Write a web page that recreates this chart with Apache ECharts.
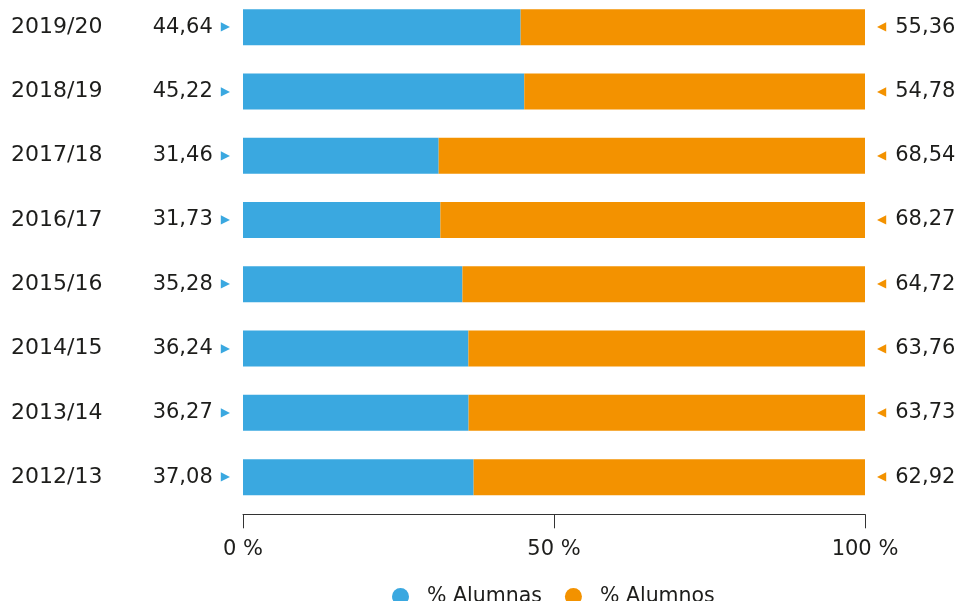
<!DOCTYPE html>
<html>
<head>
<meta charset="utf-8">
<script src="https://cdn.jsdelivr.net/npm/echarts@6/dist/echarts.min.js"></script>
<style>html,body{margin:0;padding:0;background:#fff}#c{width:958px;height:601px}</style>
</head>
<body>
<div id="c"></div>
<script>
const categories = ['2012/13','2013/14','2014/15','2015/16','2016/17','2017/18','2018/19','2019/20'];
const alumnas = [37.08, 36.27, 36.24, 35.28, 31.73, 31.46, 45.22, 44.64];
const alumnos = [62.92, 63.73, 63.76, 64.72, 68.27, 68.54, 54.78, 55.36];
const xTicks = [0, 50, 100];

const BLUE = '#3aa8e0';
const ORANGE = '#f39200';
const TXT = '#1d1d1b';
const FONT = 'DejaVu Sans';
const fmt = v => v.toFixed(2).replace('.', ',');

const chart = echarts.init(document.getElementById('c'));
chart.setOption({
  animation: false,
  textStyle: { fontFamily: FONT },
  grid: { left: 243, width: 622, top: -5, height: 514.3, outerBoundsMode: 'none', containLabel: false },
  legend: {
    left: 387, top: 581,
    itemWidth: 17, itemHeight: 17, itemGap: 23,
    icon: 'circle',
    textStyle: { fontFamily: FONT, fontSize: 20.5, color: TXT, padding: [0, 0, 0, 13] },
    data: ['% Alumnas', '% Alumnos']
  },
  xAxis: {
    type: 'value', min: 0, max: 100, interval: 50, offset: 5,
    axisLine: { show: true, lineStyle: { color: '#333', width: 1 } },
    axisTick: { show: true, length: 14, lineStyle: { color: '#333' } },
    splitLine: { show: false },
    axisLabel: { margin: 25, fontSize: 21, color: TXT, fontFamily: FONT,
      formatter: v => xTicks.includes(v) ? v + ' %' : '' }
  },
  yAxis: {
    type: 'category', data: categories,
    axisLine: { show: false }, axisTick: { show: false },
    axisLabel: { align: 'left', margin: 232, fontSize: 22, color: TXT, fontFamily: FONT }
  },
  series: [
    {
      name: '% Alumnas', type: 'bar', stack: 't', barWidth: 36,
      itemStyle: { color: BLUE }, data: alumnas,
      label: {
        show: true, position: 'left', distance: 13,
        formatter: p => '{v|' + fmt(p.value) + '}{g|▶}',
        rich: {
          v: { fontSize: 21, color: TXT, fontFamily: FONT },
          g: { fontSize: 12, color: BLUE, fontFamily: FONT, padding: [0, 0, 0, 8] }
        }
      }
    },
    {
      name: '% Alumnos', type: 'bar', stack: 't', barWidth: 36,
      itemStyle: { color: ORANGE }, data: alumnos,
      label: {
        show: true, position: 'right', distance: 12,
        formatter: p => '{g|◀}{v|' + fmt(p.value) + '}',
        rich: {
          v: { fontSize: 21, color: TXT, fontFamily: FONT },
          g: { fontSize: 12, color: ORANGE, fontFamily: FONT, padding: [0, 9, 0, 0] }
        }
      }
    }
  ]
});
</script>
</body>
</html>
